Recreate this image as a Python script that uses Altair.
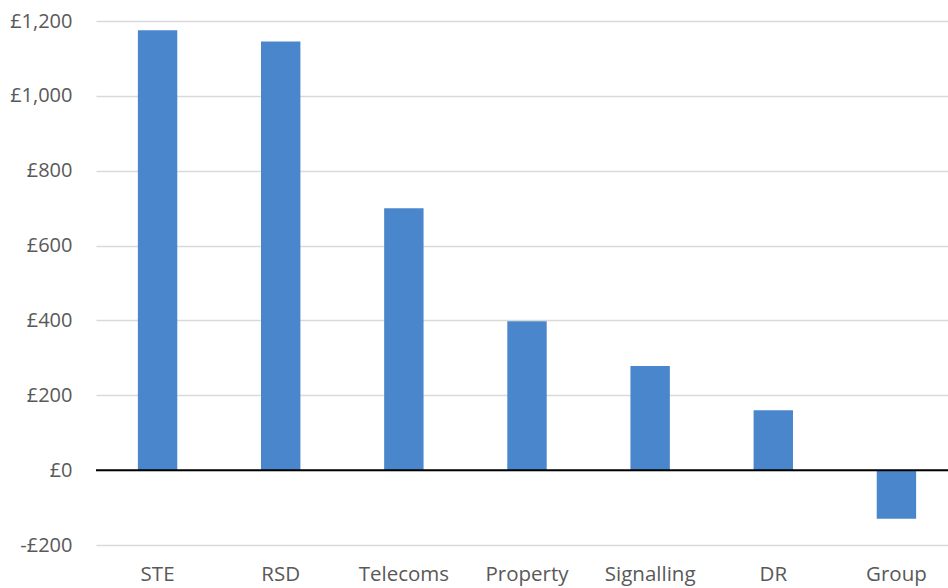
import altair as alt
import pandas as pd

categories = ["STE", "RSD", "Telecoms", "Property", "Signalling", "DR", "Group"]
values = [1175, 1145, 700, 398, 278, 160, -130]
y_ticks = [-200, 0, 200, 400, 600, 800, 1000, 1200]

df = pd.DataFrame({"category": categories, "value": values})

FONT = "Open Sans"
LABEL_COLOR = "#595959"

x_enc = alt.X(
    "category:N",
    sort=categories,
    scale=alt.Scale(paddingInner=0.68, paddingOuter=0.34, range=[0, 862]),
    axis=alt.Axis(
        title=None, labelAngle=0, domain=False, ticks=False,
        labelFontSize=20.5, labelFont=FONT, labelColor=LABEL_COLOR,
        labelPadding=19, grid=False,
    ),
)
y_scale = alt.Scale(domain=[-200, 1200], nice=False, zero=False)

bars = alt.Chart(df).mark_bar(color="#4a86cc").encode(
    x=x_enc,
    y=alt.Y(
        "value:Q",
        scale=y_scale,
        axis=alt.Axis(
            title=None, values=y_ticks, domain=False, ticks=False,
            labelExpr="(datum.value < 0 ? '-' : '') + '£' + format(abs(datum.value), ',')",
            labelFontSize=20, labelFont=FONT, labelColor=LABEL_COLOR,
            labelPadding=24, gridColor="#d9d9d9", gridWidth=1.3,
        ),
    ),
)

zero_rule = alt.Chart(pd.DataFrame({"z": [0]})).mark_rule(color="#000000", strokeWidth=2).encode(
    y=alt.Y("z:Q", scale=y_scale)
)

chart = (bars + zero_rule).properties(
    width=852, height=524,
    background="white",
    padding={"left": 96, "top": 21, "right": 0, "bottom": 43},
    autosize=alt.AutoSizeParams(type="none"),
).configure_view(strokeWidth=0, stroke="transparent")

chart.save("out.html", embed_options={"renderer": "svg", "actions": False})
